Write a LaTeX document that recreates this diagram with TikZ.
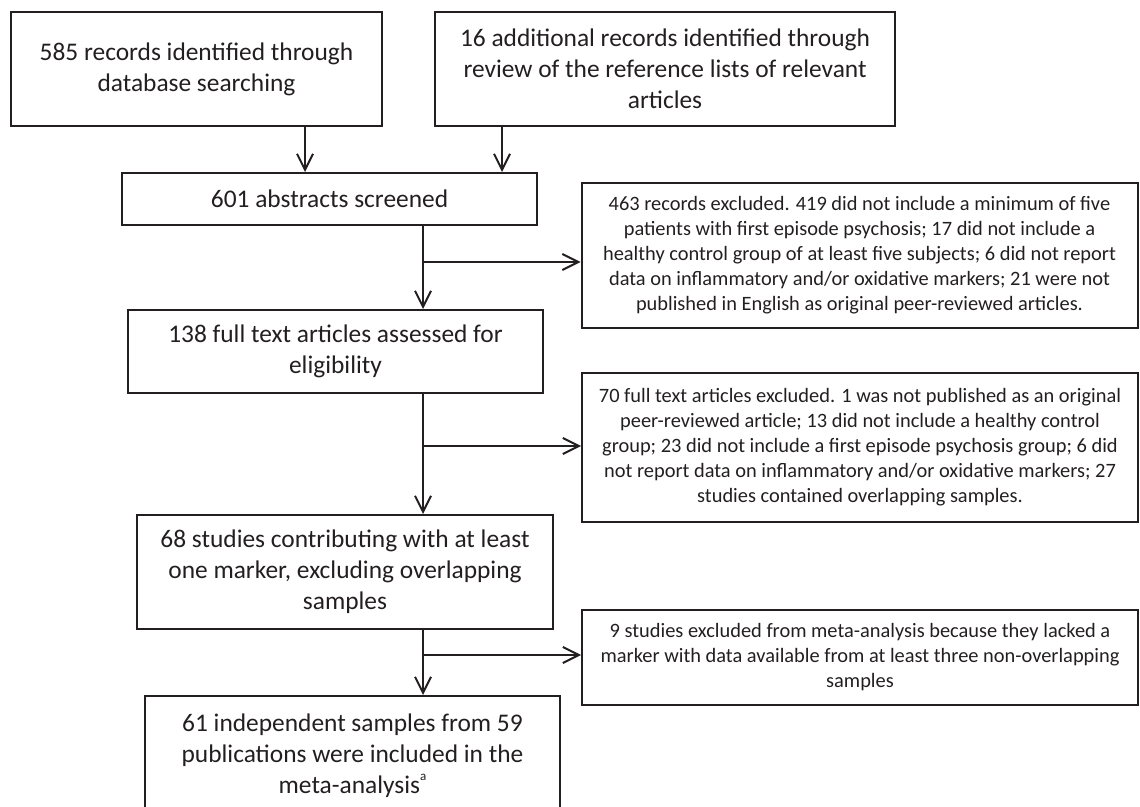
\documentclass[tikz,border=0pt]{standalone}
\usepackage{fontspec}
\setmainfont{Carlito}
\usetikzlibrary{arrows.meta, calc}
\definecolor{ink}{HTML}{231F20}

\begin{document}
\begin{tikzpicture}[x=0.5pt, y=-0.5pt]

    % Page frame
    \useasboundingbox (0,0) rectangle (1140,807);
    \clip (0,0) rectangle (1140,807);

    % Boxes
    \tikzset{bx/.style={draw=ink, line width=1pt, inner sep=0pt, align=center, text=ink}}
    \tikzset{mB/.style={bx, font=\fontsize{12.7}{15.5}\selectfont}}
    \tikzset{eB/.style={bx, font=\fontsize{10.2}{12.5}\selectfont, minimum width=278pt}}

    % Arrows
    \tikzset{fl/.style={draw=ink, line width=1pt, -{Straight Barb[length=8pt, width=8pt, line width=1pt]}}}

    % Main column
    \node (rec) [mB, minimum width=185.5pt, minimum height=57pt] at (196.5, 69) {585 records identified through\\database searching};
    \node (add) [mB, minimum width=230pt, minimum height=57pt] at (665, 69) {16 additional records identified through\\review of the reference lists of relevant\\articles};
    	\node (scr) [mB, minimum width=207.5pt, minimum height=26pt] at (329.5, 199) {601 abstracts screened};
    		\node (full) [mB, minimum width=207.5pt, minimum height=41.5pt] at (335.5, 351.5) {138 full text articles assessed for\\eligibility};
    			\node (stu) [mB, minimum width=208pt, minimum height=57pt] at (345, 572) {68 studies contributing with at least\\one marker, excluding overlapping\\samples};
    				\node (meta) [mB, minimum width=207.5pt, minimum height=60pt] at (352.5, 756) {61 independent samples from 59\\publications were included in the\\meta-analysis\raisebox{1.1ex}{\fontsize{6.5}{6.5}\selectfont a}};

    % Exclusions
    \node (exA) [eB, minimum height=72.5pt] at (859.5, 255.5) {463 records excluded. 419 did not include a minimum of five\\patients with first episode psychosis; 17 did not include a\\healthy control group of at least five subjects; 6 did not report\\data on inflammatory and/or oxidative markers; 21 were not\\published in English as original peer-reviewed articles.};
    \node (exB) [eB, minimum height=74.5pt] at (860, 447.5) {70 full text articles excluded. 1 was not published as an original\\peer-reviewed article; 13 did not include a healthy control\\group; 23 did not include a first episode psychosis group; 6 did\\not report data on inflammatory and/or oxidative markers; 27\\studies contained overlapping samples.};
    \node (exC) [eB, minimum height=47.5pt] at (860, 657.5) {9 studies excluded from meta-analysis because they lacked a\\marker with data available from at least three non-overlapping\\samples};

    % Junctions
    \coordinate (a1) at (305, 0);
    \coordinate (a2) at (502, 0);
    \coordinate (sp) at (423, 0);
    \coordinate (b1) at (423, 262);
    \coordinate (b2) at (423, 446);
    \coordinate (b3) at (423, 655);

    % Flow
    \draw[fl] (rec.south -| a1) -- (scr.north -| a1);
    \draw[fl] (add.south -| a2) -- (scr.north -| a2);
    \draw[fl] (scr.south -| sp) -- (full.north -| sp);
    	\draw[fl] (b1) -- (b1 -| exA.west);
    \draw[fl] (full.south -| sp) -- (stu.north -| sp);
    	\draw[fl] (b2) -- (b2 -| exB.west);
    \draw[fl] (stu.south -| sp) -- (meta.north -| sp);
    	\draw[fl] (b3) -- (b3 -| exC.west);

\end{tikzpicture}
\end{document}
